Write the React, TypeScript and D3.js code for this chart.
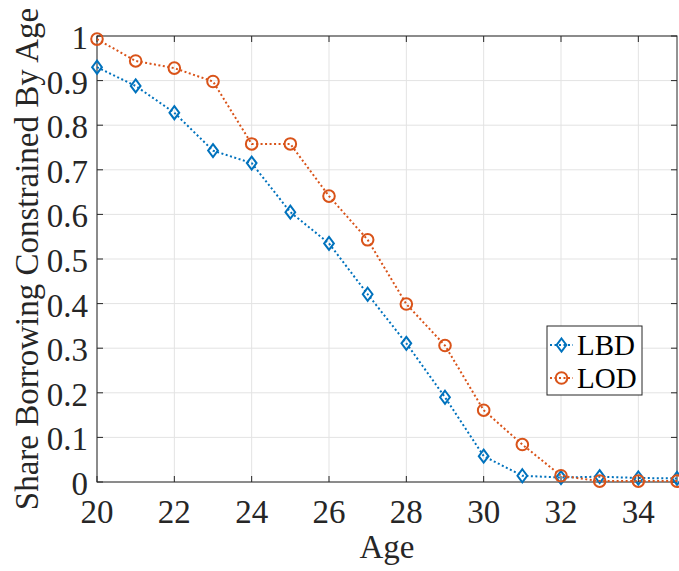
import React from "react";
import * as d3 from "d3";

const ages = [20, 21, 22, 23, 24, 25, 26, 27, 28, 29, 30, 31, 32, 33, 34, 35];
const lbd = [0.930, 0.888, 0.828, 0.743, 0.715, 0.605, 0.535, 0.421, 0.311, 0.190, 0.058, 0.014, 0.010, 0.012, 0.009, 0.008];
const lod = [0.993, 0.944, 0.928, 0.898, 0.758, 0.758, 0.641, 0.543, 0.399, 0.306, 0.161, 0.084, 0.014, 0.002, 0.002, 0.002];
const xTicks = [20, 22, 24, 26, 28, 30, 32, 34];
const yTicks = [0, 0.1, 0.2, 0.3, 0.4, 0.5, 0.6, 0.7, 0.8, 0.9, 1];
const seriesNames = ["LBD", "LOD"];
const colors = ["#0072BD", "#D95319"];

const W = 679, H = 571;
const L = 97, R = 677, T = 36, B = 482;
const FONT = "Liberation Serif";
const AX = "#262626";

function Diamond({ x, y, c }: { x: number; y: number; c: string }) {
  const s = 6.5;
  return (
    <path d={`M${x},${y - s}L${x + s * 0.75},${y}L${x},${y + s}L${x - s * 0.75},${y}Z`} fill="none" stroke={c} strokeWidth={2} />
  );
}
function Circle({ x, y, c }: { x: number; y: number; c: string }) {
  return <circle cx={x} cy={y} r={5.8} fill="none" stroke={c} strokeWidth={2} />;
}

export default function App() {
  const xs = d3.scaleLinear().domain([20, 35]).range([L, R]);
  const ys = d3.scaleLinear().domain([0, 1]).range([B, T]);
  const line = d3.line<number>().x((_, i) => xs(ages[i])).y((d) => ys(d));
  const data = [lbd, lod];
  const legX = 547, legY = 326, legW = 95, legH = 69;
  const ts = { fontFamily: FONT };
  return (
    <svg width={W} height={H} style={{ position: "absolute", left: 0, top: 0, background: "#fff" }}>
      <rect x={0} y={0} width={W} height={H} fill="#fff" />
      {xTicks.map((t) => (
        <line key={"gx" + t} x1={xs(t)} x2={xs(t)} y1={T} y2={B} stroke="#e3e3e3" strokeWidth={1} />
      ))}
      {yTicks.map((t) => (
        <line key={"gy" + t} x1={L} x2={R} y1={ys(t)} y2={ys(t)} stroke="#e3e3e3" strokeWidth={1} />
      ))}
      <rect x={L} y={T} width={R - L} height={B - T} fill="none" stroke={AX} strokeWidth={1} />
      {xTicks.map((t) => (
        <g key={"tx" + t}>
          <line x1={xs(t)} x2={xs(t)} y1={B} y2={B - 6} stroke={AX} />
          <line x1={xs(t)} x2={xs(t)} y1={T} y2={T + 6} stroke={AX} />
          <text x={xs(t)} y={523} textAnchor="middle" fontSize={33} fill={AX} style={ts}>{t}</text>
        </g>
      ))}
      {yTicks.map((t) => (
        <g key={"ty" + t}>
          <line x1={L} x2={L + 6} y1={ys(t)} y2={ys(t)} stroke={AX} />
          <line x1={R} x2={R - 6} y1={ys(t)} y2={ys(t)} stroke={AX} />
          <text x={88} y={ys(t) + 13} textAnchor="end" fontSize={33} fill={AX} style={ts}>{t === 0 || t === 1 ? String(t) : t.toFixed(1)}</text>
        </g>
      ))}
      {data.map((s, k) => (
        <g key={"s" + k}>
          <path d={line(s) || ""} fill="none" stroke={colors[k]} strokeWidth={2} strokeDasharray="2 2.5" />
          {s.map((v, i) =>
            k === 0 ? <Diamond key={i} x={xs(ages[i])} y={ys(v)} c={colors[k]} /> : <Circle key={i} x={xs(ages[i])} y={ys(v)} c={colors[k]} />
          )}
        </g>
      ))}
      <text x={387} y={558} textAnchor="middle" fontSize={33} fill={AX} style={ts}>Age</text>
      <text transform={`translate(38,259) rotate(-90)`} textAnchor="middle" fontSize={33} fill={AX} style={ts}>Share Borrowing Constrained By Age</text>
      <rect x={legX} y={legY} width={legW} height={legH} fill="#fff" stroke={AX} strokeWidth={1} />
      {seriesNames.map((n, k) => {
        const cy = legY + 19 + k * 33;
        return (
          <g key={n}>
            <line x1={legX + 3} x2={legX + 26} y1={cy} y2={cy} stroke={colors[k]} strokeWidth={2} strokeDasharray="2 2.5" />
            {k === 0 ? <Diamond x={legX + 14.5} y={cy} c={colors[k]} /> : <Circle x={legX + 14.5} y={cy} c={colors[k]} />}
            <text x={legX + 30} y={cy + 10} fontSize={29} fill="#000" style={ts}>{n}</text>
          </g>
        );
      })}
    </svg>
  );
}
